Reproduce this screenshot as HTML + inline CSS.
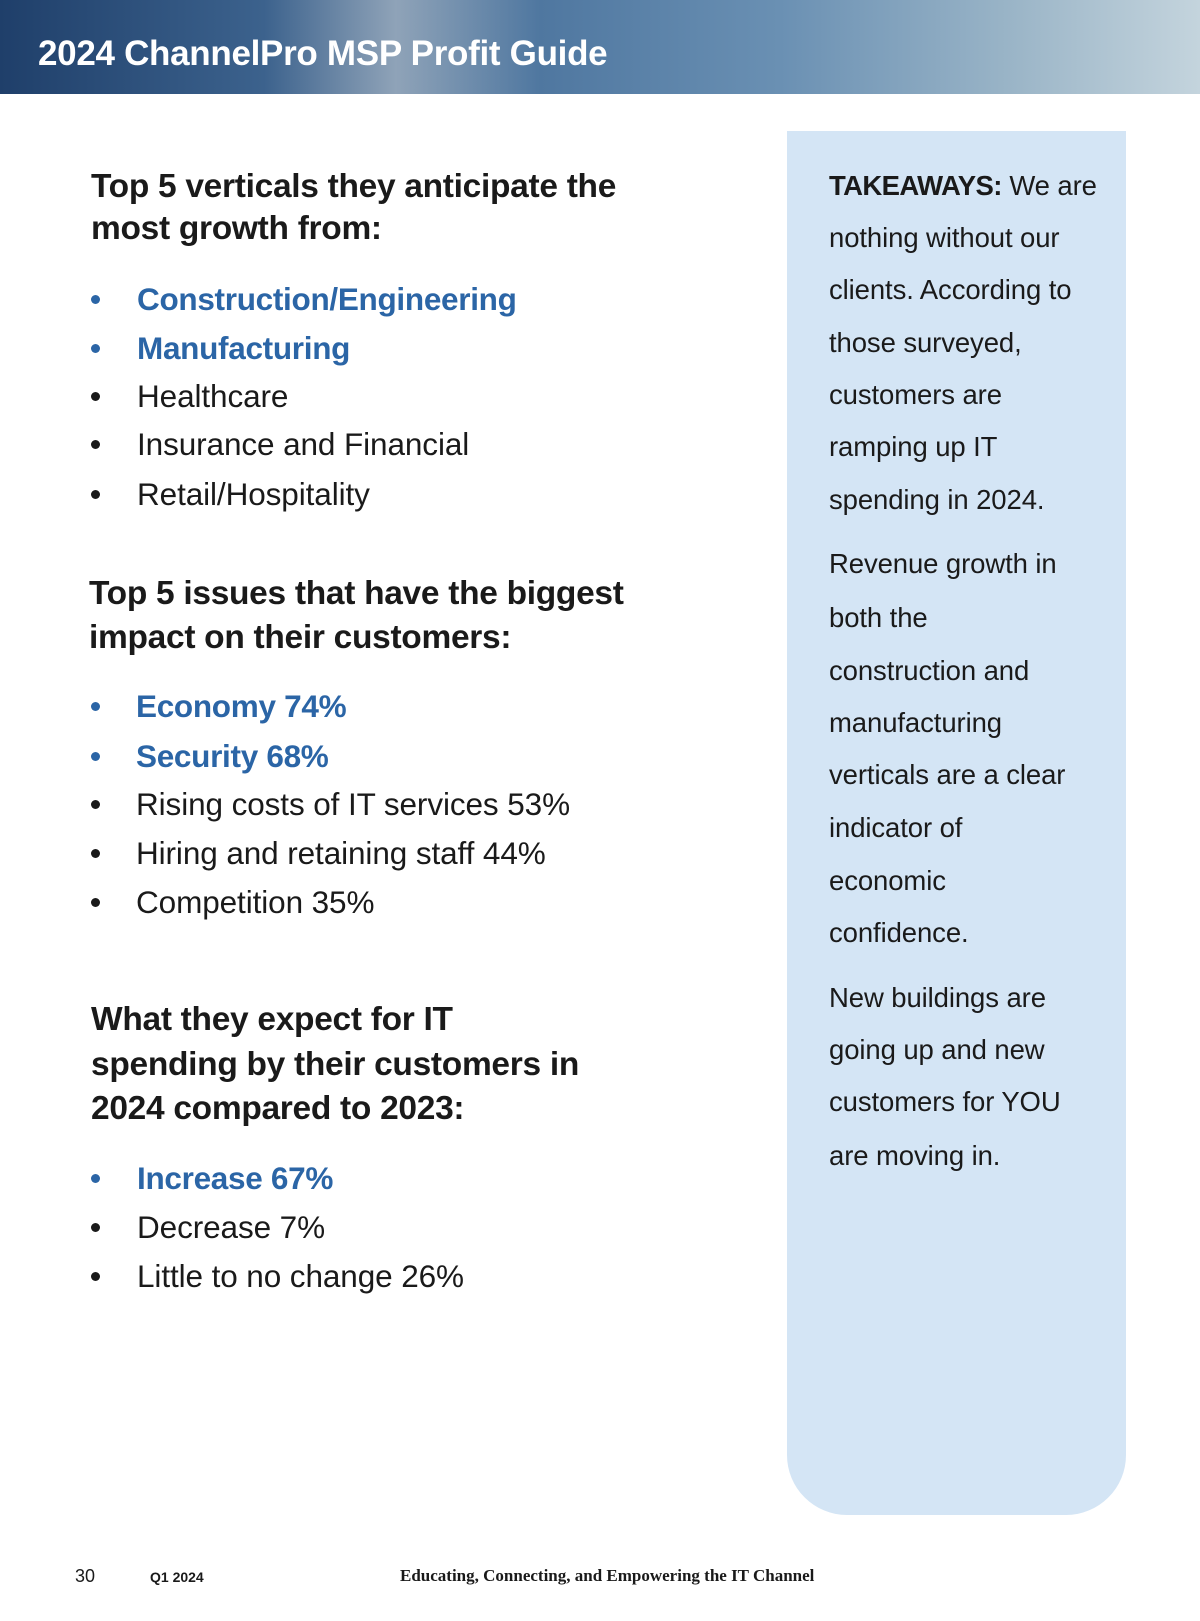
<!DOCTYPE html>
<html><head><meta charset="utf-8"><style>
body{margin:0;width:1200px;height:1621px;position:relative;background:#fff;font-family:"Liberation Sans",sans-serif;color:#1a1a1a;overflow:hidden}
.a{position:absolute;white-space:nowrap;line-height:1}
.h{font-size:33.5px;font-weight:bold;left:91px;letter-spacing:-0.3px}
.b{font-size:31.5px;left:137px;letter-spacing:-0.1px}
.bb{font-size:31.5px;font-weight:bold;left:137px;color:#2b65a6;letter-spacing:-0.3px}
.d{position:absolute;left:91px;width:9px;height:9px;border-radius:50%;background:#1a1a1a}
.dd{background:#2b65a6}
.s{font-size:27.5px;left:829px;letter-spacing:-0.1px}
</style></head><body>
<div style="position:absolute;left:0;top:0;width:1200px;height:94px;background:linear-gradient(90deg,#1f3f6a 0%,#3c628d 22%,#8fa3b8 33%,#4f77a0 45%,#6a90b3 65%,#9cb6c8 85%,#c4d4dd 100%)"></div>
<div class="a" style="left:38px;top:36px;font-size:35px;font-weight:bold;color:#fff;letter-spacing:-0.3px">2024 ChannelPro MSP Profit Guide</div>

<div style="position:absolute;left:787px;top:131px;width:339px;height:1384px;background:#d4e5f5;border-radius:0 0 60px 60px"></div>

<div class="a h" style="top:170px">Top 5 verticals they anticipate the</div>
<div class="a h" style="top:212px">most growth from:</div>
<div class="d dd" style="top:295px"></div><div class="a bb" style="top:284px">Construction/Engineering</div>
<div class="d dd" style="top:344px"></div><div class="a bb" style="top:333px">Manufacturing</div>
<div class="d" style="top:392px"></div><div class="a b" style="top:381px">Healthcare</div>
<div class="d" style="top:440px"></div><div class="a b" style="top:429px">Insurance and Financial</div>
<div class="d" style="top:490px"></div><div class="a b" style="top:479px">Retail/Hospitality</div>

<div class="a h" style="top:577px;left:89px">Top 5 issues that have the biggest</div>
<div class="a h" style="top:621px;left:89px">impact on their customers:</div>
<div class="d dd" style="top:702px"></div><div class="a bb" style="top:691px;left:136px">Economy 74%</div>
<div class="d dd" style="top:752px"></div><div class="a bb" style="top:741px;left:136px">Security 68%</div>
<div class="d" style="top:800px"></div><div class="a b" style="top:789px;left:136px">Rising costs of IT services 53%</div>
<div class="d" style="top:849px"></div><div class="a b" style="top:838px;left:136px">Hiring and retaining staff 44%</div>
<div class="d" style="top:898px"></div><div class="a b" style="top:887px;left:136px">Competition 35%</div>

<div class="a h" style="top:1003px">What they expect for IT</div>
<div class="a h" style="top:1048px">spending by their customers in</div>
<div class="a h" style="top:1092px">2024 compared to 2023:</div>
<div class="d dd" style="top:1174px"></div><div class="a bb" style="top:1163px">Increase 67%</div>
<div class="d" style="top:1223px"></div><div class="a b" style="top:1212px">Decrease 7%</div>
<div class="d" style="top:1272px"></div><div class="a b" style="top:1261px">Little to no change 26%</div>

<div class="a s" style="top:172px"><b style="letter-spacing:-0.6px">TAKEAWAYS:</b> We are</div>
<div class="a s" style="top:224px">nothing without our</div>
<div class="a s" style="top:276px">clients. According to</div>
<div class="a s" style="top:329px">those surveyed,</div>
<div class="a s" style="top:381px">customers are</div>
<div class="a s" style="top:433px">ramping up IT</div>
<div class="a s" style="top:486px">spending in 2024.</div>
<div class="a s" style="top:550px">Revenue growth in</div>
<div class="a s" style="top:604px">both the</div>
<div class="a s" style="top:657px">construction and</div>
<div class="a s" style="top:709px">manufacturing</div>
<div class="a s" style="top:761px">verticals are a clear</div>
<div class="a s" style="top:814px">indicator of</div>
<div class="a s" style="top:867px">economic</div>
<div class="a s" style="top:919px">confidence.</div>
<div class="a s" style="top:984px">New buildings are</div>
<div class="a s" style="top:1036px">going up and new</div>
<div class="a s" style="top:1088px">customers for YOU</div>
<div class="a s" style="top:1142px">are moving in.</div>

<div class="a" style="left:75px;top:1567px;font-size:18px">30</div>
<div class="a" style="left:150px;top:1570px;font-size:14px;font-weight:bold">Q1 2024</div>
<div class="a" style="left:400px;top:1567px;font-size:17px;font-family:'Liberation Serif',serif;font-weight:bold">Educating, Connecting, and Empowering the IT Channel</div>
</body></html>
